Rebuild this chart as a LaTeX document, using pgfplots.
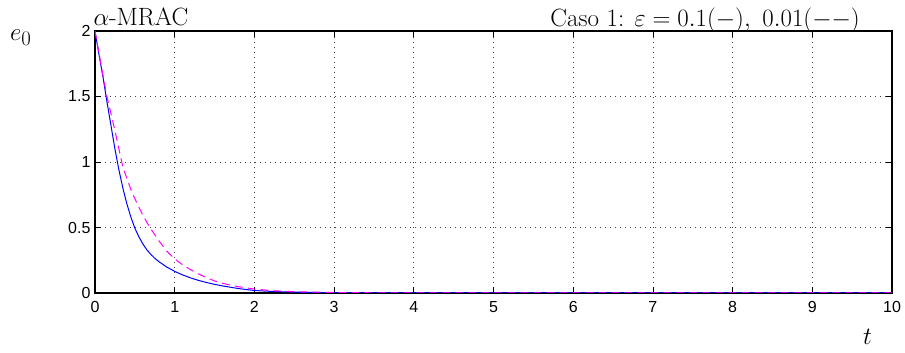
\documentclass[border=0pt]{standalone}
\usepackage{fontspec}
\setsansfont{Liberation Sans}
\usepackage{pgfplots}
\pgfplotsset{compat=1.18}
\definecolor{mag}{RGB}{255,0,255}
\definecolor{blu}{RGB}{0,0,255}
\begin{document}
\begin{tikzpicture}
\begin{axis}[
  at={(0,0)}, anchor=south west,
  scale only axis,
  width=797pt, height=262pt,
  xmin=0, xmax=10, ymin=0, ymax=2,
  xtick={0,1,...,10},
  ytick={0,0.5,1,1.5,2},
  yticklabels={0,0.5,1,1.5,2},
  xticklabels={0,1,2,3,4,5,6,7,8,9,10},
  tick align=inside,
  major tick length=6pt,
  tick style={black, line width=0.8pt},
  axis line style={black, line width=1.2pt},
  grid=major,
  major grid style={black!75, line width=0.7pt, dash pattern=on 1pt off 4pt},
  tick label style={font=\fontsize{16}{19}\sffamily},
  /pgf/number format/assume math mode=true,
  xticklabel style={yshift=-5pt},
  yticklabel style={xshift=-1pt},
  clip=true,
]
\addplot[blu, line width=1pt] coordinates {
(0,2) (0.05,1.82) (0.1,1.65) (0.15,1.46) (0.2,1.28) (0.25,1.10) (0.3,0.94)
(0.35,0.80) (0.4,0.68) (0.45,0.58) (0.5,0.495) (0.55,0.43) (0.6,0.375)
(0.65,0.33) (0.7,0.295) (0.75,0.265) (0.8,0.24) (0.9,0.198) (1.0,0.165)
(1.1,0.138) (1.2,0.115) (1.3,0.096) (1.4,0.08) (1.5,0.066) (1.6,0.054)
(1.8,0.034) (2.0,0.019) (2.25,0.011) (2.5,0.0065) (3,0.002) (3.5,0.0006)
(4,0.0002) (5,0) (10,0)
};
\addplot[mag, line width=1pt, dash pattern=on 8pt off 5pt] coordinates {
(0,2) (0.05,1.83) (0.1,1.66) (0.15,1.5) (0.2,1.37) (0.25,1.24) (0.3,1.1)
(0.35,0.96) (0.4,0.875) (0.45,0.79) (0.5,0.72) (0.55,0.655) (0.6,0.595)
(0.65,0.54) (0.7,0.49) (0.8,0.40) (0.9,0.32) (1.0,0.26) (1.1,0.215)
(1.2,0.178) (1.3,0.145) (1.4,0.117) (1.5,0.092) (1.6,0.074) (1.8,0.048)
(2.0,0.03) (2.25,0.017) (2.5,0.01) (3,0.004) (3.5,0.0015) (4,0.0005)
(5,0) (10,0)
};
\coordinate (sw) at (rel axis cs:0,0);
\end{axis}
\node[anchor=base west, inner sep=0pt, font=\fontsize{25}{30}\selectfont] at ([shift={(-1.7pt,267pt)}]sw) {$\alpha$-MRAC};
\node[anchor=base east, inner sep=0pt, font=\fontsize{25}{30}\selectfont] at ([shift={(765pt,266.3pt)}]sw) {Caso 1: $\varepsilon=0.1(-),\ 0.01(--)$};
\node[anchor=base west, inner sep=0pt, font=\fontsize{30}{36}\selectfont] at ([shift={(-85pt,252.3pt)}]sw) {$e_0$};
\node[anchor=base west, inner sep=0pt, font=\fontsize{30}{36}\selectfont] at ([shift={(768pt,-52pt)}]sw) {$t$};
\path[use as bounding box] ([shift={(-95pt,-60pt)}]sw) rectangle ([shift={(810pt,293pt)}]sw);
\end{tikzpicture}
\end{document}
